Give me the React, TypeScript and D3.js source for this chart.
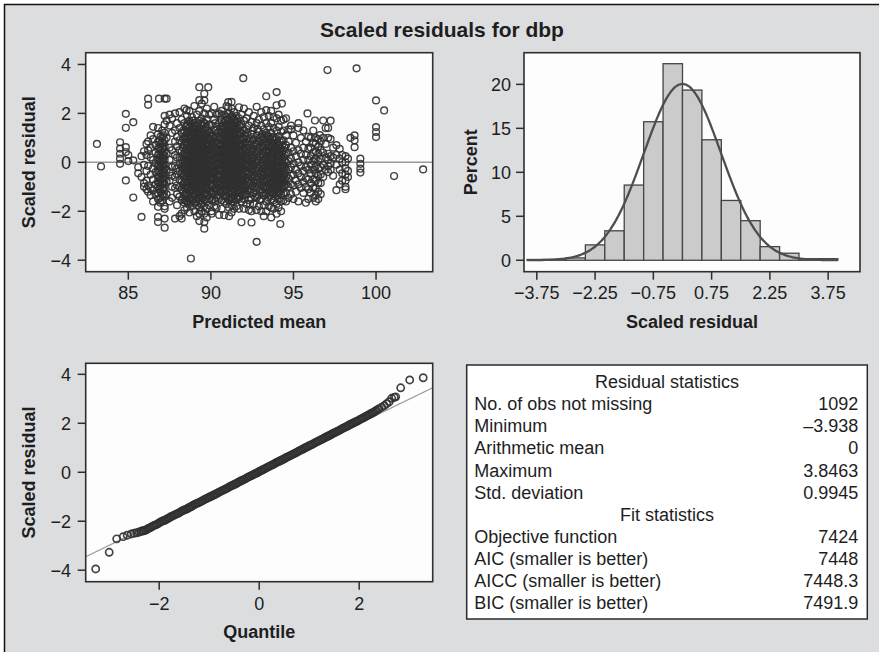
import React from 'react';
import * as d3 from 'd3';

const W = 879;
const H = 652;

// ---------- Panel 1: scaled residual vs predicted mean (columns of points) ----------
const scatterColumns: [number, number[]][] = [
  [83.1, [0.75]],
  [83.35, [-0.17]],
  [84.5, [0.82, 0.56, 0.35, 0.15, -0.06]],
  [84.85, [1.98, 1.41, 0.62, 0.42, -0.74]],
  [85.0, [0.3, 0.05]],
  [85.3, [1.64, 0.08, -1.44]],
  [85.6, [-0.2, -0.45]],
  [85.8, [0.25, -0.6, -2.23]],
  [85.95, [0.45, -0.1, -0.85, -1.0]],
  [86.1, [0.75, 0.3, -0.35, -0.75, -1.1]],
  [86.2, [2.6, 2.35, 0.85, 0.5, -0.15, -0.95, -1.2]],
  [86.35, [1.1, 0.6, 0.2, -0.5, -1.05, -1.35]],
  [86.5, [1.45, 0.95, 0.1, -0.25, -0.7, -1.15, -1.6]],
  [86.65, [0.7, 0.4, -0.05, -0.4, -0.9, -1.3]],
  [86.8, [1.4, 1.15, 0.85, 0.55, 0.3, 0.1, -0.15, -0.35, -0.6, -0.8, -1.0, -1.25, -1.5, -1.82, -2.23, -2.44]],
  [86.86, [2.6]],
  [86.95, [1.05, 0.75, 0.5, 0.25, 0.0, -0.2, -0.45, -0.7, -0.95, -1.2, -1.45, -1.65]],
  [87.05, [1.3, 1.0, 0.8, 0.6, 0.4, 0.2, 0.05, -0.1, -0.3, -0.5, -0.65, -0.85, -1.05, -1.3, -1.55]],
  [87.2, [2.6, 1.9, 1.55, 1.2, 0.9, 0.65, 0.45, 0.25, 0.1, -0.1, -0.25, -0.45, -0.7, -0.9, -1.15, -1.4, -1.8, -1.9, -2.3, -2.67]],
  [87.32, [2.6, 1.7, 1.0, 0.35, -0.3, -0.8, -1.3]],
  [87.5, [1.95, 1.5, 0.6, 0.1, -0.4, -0.75, -1.6]],
  [87.65, [1.8, 1.2, 0.5, -0.2, -0.55, -1.0, -1.45]],
  [87.83, [2.0, 1.3, 0.85, 0.3, -0.15, -0.6, -1.05, -2.3]],
  [87.95, [1.6, 1.05, 0.65, 0.2, -0.25, -0.5, -0.95, -1.3, -1.75]],
  [88.1, [2.05, 1.4, 0.9, 0.5, 0.2, -0.05, -0.35, -0.7, -1.0, -1.4, -2.2]],
  [88.23, [1.75, 1.2, 0.8, 0.45, 0.1, -0.2, -0.45, -0.8, -1.1, -1.55, -2.1, -2.3]],
  [88.4, [2.2, 1.6, 1.25, 0.95, 0.7, 0.4, 0.15, -0.1, -0.3, -0.55, -0.8, -1.05, -1.35, -1.65, -1.95]],
  [88.53, [2.13]],
  [88.55, [1.9, 1.5, 1.2, 0.95, 0.75, 0.55, 0.3, 0.1, -0.05, -0.25, -0.45, -0.6, -0.85, -1.1, -1.3, -1.6, -1.85]],
  [88.7, [2.1, 1.7, 1.4, 1.1, 0.9, 0.65, 0.45, 0.25, 0.1, -0.1, -0.25, -0.4, -0.6, -0.8, -1.0, -1.2, -1.45, -1.7, -2.05]],
  [88.79, [-3.93]],
  [88.85, [1.85, 1.5, 1.25, 1.0, 0.8, 0.6, 0.4, 0.2, 0.05, -0.1, -0.2, -0.35, -0.5, -0.7, -0.9, -1.1, -1.3, -1.55, -1.8]],
  [89.0, [2.3, 1.6, 1.35, 1.15, 0.95, 0.7, 0.5, 0.35, 0.15, 0.0, -0.15, -0.3, -0.45, -0.6, -0.75, -0.95, -1.15, -1.4, -1.65, -2.0]],
  [89.15, [1.95, 1.45, 1.2, 1.0, 0.8, 0.6, 0.45, 0.3, 0.1, -0.05, -0.2, -0.35, -0.55, -0.7, -0.85, -1.05, -1.25, -1.5, -1.75, -2.2]],
  [89.3, [3.07, 2.54, 2.1, 1.7, 1.4, 1.15, 0.9, 0.7, 0.5, 0.3, 0.15, 0.0, -0.2, -0.35, -0.5, -0.7, -0.9, -1.1, -1.3, -1.55, -1.85, -2.1, -2.4]],
  [89.45, [2.4, 1.8, 1.5, 1.2, 1.0, 0.75, 0.55, 0.35, 0.2, 0.05, -0.1, -0.25, -0.4, -0.6, -0.8, -1.0, -1.2, -1.45, -1.7, -2.0]],
  [89.6, [2.8, 2.53, 2.0, 1.6, 1.3, 1.05, 0.85, 0.6, 0.4, 0.2, 0.0, -0.15, -0.3, -0.5, -0.65, -0.85, -1.05, -1.3, -1.55, -1.8, -2.1, -2.44, -2.71]],
  [89.75, [2.2, 1.75, 1.45, 1.15, 0.9, 0.65, 0.45, 0.25, 0.05, -0.1, -0.3, -0.45, -0.65, -0.85, -1.1, -1.35, -1.6, -1.9, -2.25]],
  [89.84, [3.07]],
  [89.9, [1.95, 1.55, 1.2, 0.95, 0.7, 0.5, 0.3, 0.1, -0.1, -0.3, -0.5, -0.7, -0.95, -1.2, -1.5, -1.75]],
  [90.05, [2.0, 1.5, 1.1, 0.8, 0.55, 0.3, 0.05, -0.2, -0.45, -0.7, -0.95, -1.25, -1.55, -2.0, -2.1]],
  [90.2, [2.27, 1.75, 1.3, 0.95, 0.6, 0.35, 0.1, -0.15, -0.4, -0.65, -0.9, -1.2, -1.5, -1.8]],
  [90.35, [1.95, 1.45, 1.05, 0.75, 0.45, 0.2, -0.05, -0.3, -0.55, -0.85, -1.15, -1.45, -1.85]],
  [90.5, [2.0, 1.6, 1.25, 0.95, 0.65, 0.4, 0.15, -0.1, -0.35, -0.6, -0.9, -1.2, -1.5, -2.15]],
  [90.65, [2.1, 1.93, 1.75, 1.45, 1.2, 0.95, 0.7, 0.5, 0.3, 0.1, -0.1, -0.3, -0.5, -0.75, -1.0, -1.25, -1.55, -1.9]],
  [90.8, [1.95, 1.6, 1.35, 1.1, 0.9, 0.7, 0.5, 0.35, 0.2, 0.0, -0.15, -0.3, -0.5, -0.7, -0.9, -1.1, -1.35, -1.6, -2.16]],
  [90.95, [2.3, 1.85, 1.55, 1.3, 1.1, 0.9, 0.7, 0.55, 0.4, 0.25, 0.1, -0.05, -0.2, -0.35, -0.55, -0.75, -0.95, -1.15, -1.4, -1.7]],
  [91.05, [2.46, 2.26]],
  [91.1, [2.0, 1.7, 1.45, 1.25, 1.05, 0.85, 0.65, 0.45, 0.3, 0.15, 0.0, -0.15, -0.3, -0.45, -0.65, -0.85, -1.05, -1.3, -1.55, -1.85, -2.2]],
  [91.25, [2.47, 2.2, 1.9, 1.6, 1.35, 1.15, 0.95, 0.75, 0.55, 0.4, 0.2, 0.05, -0.1, -0.25, -0.4, -0.6, -0.8, -1.0, -1.2, -1.45, -1.75, -2.05]],
  [91.4, [2.05, 1.75, 1.5, 1.3, 1.1, 0.9, 0.7, 0.5, 0.35, 0.15, 0.0, -0.15, -0.3, -0.5, -0.7, -0.9, -1.1, -1.35, -1.6, -1.9]],
  [91.55, [1.9, 1.6, 1.35, 1.15, 0.95, 0.75, 0.55, 0.35, 0.15, -0.05, -0.2, -0.4, -0.6, -0.8, -1.0, -1.25, -1.5, -1.8]],
  [91.7, [2.25, 1.8, 1.5, 1.2, 0.95, 0.7, 0.5, 0.3, 0.1, -0.1, -0.3, -0.5, -0.7, -0.95, -1.2, -1.5, -1.9]],
  [91.85, [1.95, 1.55, 1.2, 0.9, 0.65, 0.4, 0.2, 0.0, -0.2, -0.45, -0.7, -0.95, -1.25, -1.6, -2.45]],
  [91.96, [3.44]],
  [92.0, [2.2, 1.7, 1.3, 0.95, 0.6, 0.3, 0.05, -0.25, -0.55, -0.85, -1.15, -1.5, -1.9]],
  [92.15, [1.8, 1.35, 0.95, 0.6, 0.25, -0.05, -0.35, -0.65, -0.95, -1.3, -1.7]],
  [92.3, [2.05, 1.5, 1.0, 0.6, 0.25, -0.1, -0.45, -0.8, -1.15, -1.55, -1.95]],
  [92.46, [1.65, 1.15, 0.7, 0.3, -0.05, -0.4, -0.75, -1.1, -1.5, -2.0, -2.46]],
  [92.6, [1.9, 1.4, 0.95, 0.55, 0.2, -0.15, -0.5, -0.85, -1.25, -1.7]],
  [92.77, [2.27, 1.6, 1.1, 0.7, 0.35, 0.0, -0.35, -0.7, -1.05, -1.45, -1.95, -3.25]],
  [92.9, [1.75, 1.25, 0.85, 0.45, 0.1, -0.25, -0.6, -0.95, -1.35, -1.8]],
  [93.05, [2.05, 1.5, 1.05, 0.65, 0.3, -0.05, -0.4, -0.75, -1.1, -1.5, -2.0]],
  [93.2, [1.85, 1.35, 0.95, 0.6, 0.25, -0.1, -0.4, -0.7, -1.0, -1.35, -1.75, -2.2]],
  [93.35, [2.7, 2.13, 1.6, 1.2, 0.85, 0.5, 0.2, -0.1, -0.4, -0.7, -1.0, -1.3, -1.6, -2.0]],
  [93.5, [1.9, 1.45, 1.05, 0.7, 0.4, 0.1, -0.15, -0.4, -0.65, -0.9, -1.15, -1.45, -1.8]],
  [93.65, [2.1, 1.6, 1.2, 0.85, 0.55, 0.3, 0.05, -0.2, -0.45, -0.7, -0.95, -1.2, -1.5, -1.85, -2.25]],
  [93.8, [1.85, 1.4, 1.05, 0.75, 0.45, 0.2, -0.05, -0.3, -0.5, -0.75, -1.0, -1.25, -1.55, -1.9]],
  [93.98, [2.87, 2.33, 1.8, 1.3, 0.95, 0.6, 0.3, 0.05, -0.2, -0.4, -0.6, -0.85, -1.1, -1.35, -1.7, -2.1]],
  [94.1, [1.95, 1.45, 1.05, 0.7, 0.4, 0.15, -0.1, -0.3, -0.5, -0.7, -0.95, -1.2, -1.5, -1.85]],
  [94.2, [-2.52]],
  [94.25, [1.7, 1.25, 0.9, 0.55, 0.25, 0.0, -0.25, -0.45, -0.65, -0.85, -1.05, -1.3, -1.6, -2.0]],
  [94.3, [2.4]],
  [94.4, [1.75, 1.3, 0.9, 0.5, 0.2, -0.1, -0.35, -0.55, -0.75, -1.0, -1.25, -1.55]],
  [94.55, [1.8, 1.1, 0.7, 0.35, 0.0, -0.3, -0.6, -0.9, -1.25, -1.6]],
  [94.7, [1.35, 0.85, 0.4, 0.05, -0.3, -0.65, -1.0, -1.45]],
  [94.85, [1.5, 1.35, 0.6, 0.15, -0.2, -0.55, -0.9, -1.3]],
  [95.0, [1.1, 0.45, -0.05, -0.5, -0.95, -1.5]],
  [95.15, [0.8, 0.25, -0.3, -0.75, -1.2]],
  [95.3, [1.6, 1.4, 0.5, 0.0, -0.45, -0.9, -1.6]],
  [95.45, [1.0, 0.35, -0.15, -0.6, -1.05]],
  [95.6, [1.3, 0.6, 0.1, -0.35, -0.8, -1.25]],
  [95.75, [0.85, 0.3, -0.2, -0.65, -1.0, -1.65]],
  [95.85, [2.0]],
  [95.9, [1.05, 0.55, 0.1, -0.3, -0.7, -1.1, -1.5]],
  [96.05, [1.0, 0.6, 0.25, -0.1, -0.45, -0.85, -1.25]],
  [96.2, [1.3, 0.8, 0.4, 0.05, -0.3, -0.7, -1.05, -1.45]],
  [96.3, [1.71]],
  [96.35, [1.0, 0.75, 0.45, 0.15, -0.15, -0.45, -0.75, -1.05, -1.35, -1.6]],
  [96.5, [0.95, 0.65, 0.35, 0.05, -0.25, -0.55, -0.85, -1.2, -1.5]],
  [96.6, [1.11]],
  [96.65, [0.85, 0.5, 0.15, -0.2, -0.5, -0.85, -1.3]],
  [96.8, [1.71, 1.0, 0.4, -0.1, -0.6]],
  [96.95, [1.4, 0.75, 0.2, -0.3]],
  [97.06, [3.77]],
  [97.1, [1.4, 1.0, 0.35, 0.1, -0.15, -0.4]],
  [97.25, [1.7, 0.95, 0.25, -0.05, -0.3]],
  [97.4, [0.6, 0.2, -0.55]],
  [97.6, [0.7, 0.3, -0.1, -1.14]],
  [97.8, [0.55, 0.15, -0.3, -0.9]],
  [97.95, [0.3, 0.0, -0.45, -0.75]],
  [98.15, [0.25, 0.0, -0.25, -0.5, -0.75, -1.0, -1.1]],
  [98.3, [0.15, -0.35, -0.6]],
  [98.45, [1.0]],
  [98.7, [1.1, 0.9, 0.62]],
  [98.82, [3.84]],
  [99.05, [0.15, -0.06, -0.26, -0.42]],
  [100.0, [2.53, 1.44, 1.24, 1.03]],
  [100.49, [2.12]],
  [101.09, [-0.56]],
  [102.85, [-0.29]],
];

// Additional points in the densest parts of the cloud
const scatterColumnsDense: [number, number[]][] = [
  [86.88, [0.9, 0.6, 0.35, 0.1, -0.1, -0.35, -0.6, -0.85, -1.1]],
  [87.12, [1.1, 0.8, 0.55, 0.3, 0.1, -0.15, -0.4, -0.6, -0.85, -1.1, -1.35]],
  [88.32, [1.3, 0.95, 0.6, 0.3, 0.0, -0.25, -0.55, -0.9, -1.2, -1.5]],
  [88.47, [1.45, 1.1, 0.8, 0.5, 0.25, 0.0, -0.2, -0.45, -0.7, -0.95, -1.25, -1.55]],
  [88.62, [1.55, 1.25, 1.0, 0.75, 0.5, 0.3, 0.05, -0.15, -0.35, -0.55, -0.8, -1.05, -1.35, -1.65]],
  [88.77, [1.6, 1.3, 1.05, 0.8, 0.55, 0.35, 0.15, -0.05, -0.3, -0.5, -0.7, -0.95, -1.2, -1.5]],
  [88.92, [1.7, 1.4, 1.1, 0.85, 0.65, 0.45, 0.25, 0.05, -0.15, -0.35, -0.55, -0.75, -1.0, -1.25, -1.55]],
  [89.07, [1.5, 1.25, 1.0, 0.8, 0.55, 0.35, 0.2, 0.0, -0.2, -0.4, -0.55, -0.8, -1.0, -1.3, -1.6]],
  [89.22, [1.6, 1.3, 1.05, 0.85, 0.65, 0.4, 0.2, 0.05, -0.15, -0.3, -0.5, -0.7, -0.95, -1.2, -1.45]],
  [89.37, [1.55, 1.25, 1.0, 0.8, 0.6, 0.4, 0.25, 0.05, -0.15, -0.3, -0.5, -0.7, -0.9, -1.15, -1.4, -1.7]],
  [89.52, [1.65, 1.35, 1.1, 0.9, 0.7, 0.45, 0.25, 0.1, -0.1, -0.25, -0.45, -0.65, -0.9, -1.15, -1.45]],
  [89.67, [1.4, 1.15, 0.9, 0.7, 0.5, 0.3, 0.1, -0.1, -0.3, -0.5, -0.75, -1.0, -1.25, -1.5]],
  [89.82, [1.3, 1.0, 0.75, 0.5, 0.3, 0.1, -0.1, -0.3, -0.55, -0.8, -1.05, -1.35]],
  [89.97, [1.2, 0.9, 0.6, 0.35, 0.1, -0.15, -0.4, -0.65, -0.9, -1.2]],
  [90.12, [1.05, 0.7, 0.4, 0.15, -0.1, -0.35, -0.6, -0.95, -1.3]],
  [90.27, [1.6, 0.85, 0.5, 0.2, -0.1, -0.4, -0.75, -1.05, -1.6]],
  [90.42, [1.2, 0.8, 0.55, 0.3, 0.0, -0.25, -0.5, -0.8, -1.05, -1.35]],
  [90.57, [1.35, 1.05, 0.75, 0.45, 0.2, -0.05, -0.3, -0.55, -0.85, -1.15]],
  [90.72, [1.5, 1.2, 0.9, 0.6, 0.35, 0.1, -0.15, -0.4, -0.65, -0.9, -1.2]],
  [90.87, [1.7, 1.45, 1.2, 0.95, 0.75, 0.55, 0.35, 0.15, -0.05, -0.25, -0.45, -0.65, -0.85, -1.1, -1.4]],
  [91.02, [1.75, 1.5, 1.25, 1.0, 0.8, 0.6, 0.4, 0.2, 0.05, -0.1, -0.3, -0.5, -0.7, -0.95, -1.2, -1.5]],
  [91.17, [1.8, 1.55, 1.3, 1.05, 0.85, 0.65, 0.45, 0.25, 0.1, -0.1, -0.25, -0.45, -0.65, -0.9, -1.15, -1.45]],
  [91.32, [1.85, 1.55, 1.3, 1.05, 0.85, 0.6, 0.4, 0.25, 0.05, -0.1, -0.3, -0.5, -0.7, -0.95, -1.2, -1.5]],
  [91.47, [1.7, 1.45, 1.2, 1.0, 0.8, 0.6, 0.4, 0.2, 0.05, -0.15, -0.35, -0.55, -0.75, -1.0, -1.3]],
  [91.62, [1.65, 1.4, 1.15, 0.9, 0.7, 0.5, 0.3, 0.1, -0.1, -0.3, -0.5, -0.7, -0.95, -1.2, -1.45]],
  [91.77, [1.5, 1.2, 0.95, 0.7, 0.45, 0.25, 0.05, -0.15, -0.35, -0.6, -0.85, -1.1, -1.4]],
  [91.92, [1.3, 1.0, 0.75, 0.5, 0.25, 0.0, -0.25, -0.5, -0.75, -1.05, -1.35]],
  [92.07, [1.1, 0.8, 0.45, 0.15, -0.1, -0.4, -0.7, -1.0, -1.3]],
  [92.22, [1.2, 0.75, 0.4, 0.1, -0.2, -0.5, -0.8, -1.15]],
  [92.37, [0.85, 0.45, 0.1, -0.2, -0.55, -0.9, -1.25, -1.7]],
  [92.52, [1.3, 0.9, 0.5, 0.15, -0.25, -0.6, -0.95]],
  [92.67, [0.75, 0.4, 0.05, -0.3, -0.6, -1.0, -1.4]],
  [92.82, [1.35, 0.9, 0.55, 0.2, -0.15, -0.5, -0.85]],
  [92.97, [1.0, 0.6, 0.25, -0.1, -0.45, -0.8, -1.15, -1.55]],
  [93.12, [1.15, 0.8, 0.45, 0.1, -0.25, -0.55, -0.9, -1.25]],
  [93.27, [1.0, 0.7, 0.4, 0.1, -0.2, -0.5, -0.8, -1.1]],
  [93.42, [1.1, 0.8, 0.5, 0.25, 0.0, -0.25, -0.5, -0.75, -1.0, -1.25]],
  [93.57, [0.95, 0.65, 0.4, 0.15, -0.1, -0.35, -0.6, -0.85, -1.1, -1.35]],
  [93.72, [1.0, 0.7, 0.45, 0.2, -0.05, -0.3, -0.55, -0.8, -1.05, -1.3]],
  [93.87, [0.9, 0.6, 0.35, 0.1, -0.15, -0.4, -0.65, -0.9, -1.15, -1.4]],
  [94.02, [0.8, 0.5, 0.25, 0.0, -0.25, -0.5, -0.75, -1.0, -1.25]],
  [94.17, [0.85, 0.55, 0.3, 0.05, -0.2, -0.45, -0.7, -0.95, -1.2]],
  [94.32, [0.7, 0.4, 0.15, -0.1, -0.35, -0.6, -0.85, -1.1]],
  [94.47, [0.6, 0.3, 0.05, -0.2, -0.45, -0.7, -0.95]],
];

// ---------- Panel 2: histogram of scaled residuals ----------
const histBinStart = [-4, -3.5, -3, -2.5, -2, -1.5, -1, -0.5, 0, 0.5, 1, 1.5, 2, 2.5, 3, 3.5];
const histPercent = [0.09, 0.09, 0.27, 1.75, 3.35, 8.55, 15.75, 22.35, 19.35, 13.7, 6.8, 4.5, 1.55, 0.8, 0.18, 0.18];
const histBinWidth = 0.5;

// ---------- Panel 3: normal quantile plot ----------
const qqQuantile = [
  -3.27, -3.0, -2.85, -2.72, -2.64, -2.56, -2.5, -2.45, -2.4, -2.36, -2.33,
  -2.31, -2.28, -2.25, -2.22, -2.19, -2.16, -2.13, -2.1, -2.07, -2.04, -2.01, -1.98, -1.95, -1.92, -1.89, -1.86,
  -1.83, -1.8, -1.77, -1.74, -1.71, -1.68, -1.65, -1.62, -1.59, -1.56, -1.53, -1.5, -1.47, -1.44, -1.41, -1.38,
  -1.35, -1.32, -1.29, -1.26, -1.23, -1.2, -1.17, -1.14, -1.11, -1.08, -1.05, -1.02, -0.99, -0.96, -0.93, -0.9,
  -0.87, -0.84, -0.81, -0.78, -0.75, -0.72, -0.69, -0.66, -0.63, -0.6, -0.57, -0.54, -0.51, -0.48, -0.45, -0.42,
  -0.39, -0.36, -0.33, -0.3, -0.27, -0.24, -0.21, -0.18, -0.15, -0.12, -0.09, -0.06, -0.03, 0.0, 0.03, 0.06,
  0.09, 0.12, 0.15, 0.18, 0.21, 0.24, 0.27, 0.3, 0.33, 0.36, 0.39, 0.42, 0.45, 0.48, 0.51, 0.54,
  0.57, 0.6, 0.63, 0.66, 0.69, 0.72, 0.75, 0.78, 0.81, 0.84, 0.87, 0.9, 0.93, 0.96, 0.99, 1.02,
  1.05, 1.08, 1.11, 1.14, 1.17, 1.2, 1.23, 1.26, 1.29, 1.32, 1.35, 1.38, 1.41, 1.44, 1.47, 1.5,
  1.53, 1.56, 1.59, 1.62, 1.65, 1.68, 1.71, 1.74, 1.77, 1.8, 1.83, 1.86, 1.89, 1.92, 1.95, 1.98,
  2.01, 2.04, 2.07, 2.1, 2.13, 2.16, 2.19, 2.22, 2.25, 2.28, 2.31, 2.34, 2.37, 2.4,
  2.45, 2.5, 2.55, 2.6, 2.65, 2.7, 2.73, 2.83, 3.01, 3.28,
];
const qqResidual = [
  -3.95, -3.27, -2.72, -2.63, -2.57, -2.52, -2.49, -2.47, -2.44, -2.41, -2.39,
  -2.39, -2.37, -2.34, -2.3, -2.27, -2.24, -2.2, -2.17, -2.15, -2.12, -2.08, -2.04, -2.01, -1.98, -1.96, -1.93,
  -1.89, -1.86, -1.82, -1.79, -1.76, -1.73, -1.7, -1.68, -1.64, -1.6, -1.57, -1.54, -1.52, -1.49, -1.45, -1.42,
  -1.39, -1.35, -1.31, -1.28, -1.26, -1.23, -1.2, -1.17, -1.13, -1.1, -1.07, -1.04, -1.01, -0.98, -0.95, -0.92,
  -0.89, -0.86, -0.82, -0.79, -0.76, -0.73, -0.7, -0.67, -0.64, -0.6, -0.57, -0.54, -0.51, -0.48, -0.45, -0.41,
  -0.38, -0.35, -0.32, -0.29, -0.26, -0.22, -0.19, -0.16, -0.13, -0.1, -0.07, -0.04, -0.01, 0.03, 0.06, 0.09,
  0.12, 0.15, 0.19, 0.22, 0.25, 0.28, 0.31, 0.34, 0.38, 0.41, 0.44, 0.47, 0.5, 0.53, 0.56, 0.6,
  0.63, 0.66, 0.69, 0.72, 0.75, 0.78, 0.81, 0.85, 0.88, 0.91, 0.94, 0.98, 1.01, 1.04, 1.07, 1.1,
  1.13, 1.16, 1.2, 1.23, 1.26, 1.29, 1.32, 1.35, 1.38, 1.42, 1.45, 1.48, 1.51, 1.54, 1.58, 1.61,
  1.64, 1.67, 1.7, 1.73, 1.77, 1.8, 1.83, 1.86, 1.89, 1.93, 1.96, 1.99, 2.02, 2.05, 2.08, 2.11,
  2.15, 2.18, 2.21, 2.24, 2.28, 2.31, 2.34, 2.38, 2.41, 2.44, 2.48, 2.52, 2.56, 2.6,
  2.66, 2.72, 2.8, 2.88, 3.02, 3.06, 3.08, 3.45, 3.77, 3.86,
];

// ---------- Axis ticks ----------
const scatterXTicks = [85, 90, 95, 100];
const residualTicks = [-4, -2, 0, 2, 4];
const histXTicks = [-3.75, -2.25, -0.75, 0.75, 2.25, 3.75];
const histYTicks = [0, 5, 10, 15, 20];
const qqXTicks = [-2, 0, 2];

// ---------- Statistics table ----------
const residualStatLabels = ['No. of obs not missing', 'Minimum', 'Arithmetic mean', 'Maximum', 'Std. deviation'];
const residualStatValues = ['1092', '\u20133.938', '0', '3.8463', '0.9945'];
const fitStatLabels = ['Objective function', 'AIC (smaller is better)', 'AICC (smaller is better)', 'BIC (smaller is better)'];
const fitStatValues = ['7424', '7448', '7448.3', '7491.9'];

const residualMean = 0;
const residualSD = 0.9945;

const FONT = '"Liberation Sans", Arial, Helvetica, sans-serif';
const INK = '#1e1e1e';
const AXIS = '#2e2e2e';
const BG = '#dcdddf';
const MARK = '#303030';

const fmt = (v: number) => (v < 0 ? '\u2212' + String(Math.abs(v)) : String(v));

type Box = { x0: number; x1: number; y0: number; y1: number };

function Frame({ b }: { b: Box }) {
  return (
    <rect x={b.x0} y={b.y0} width={b.x1 - b.x0} height={b.y1 - b.y0} fill="none" stroke={AXIS} strokeWidth={1.6} />
  );
}

function YAxis({ b, scale, ticks, labelX, format }: { b: Box; scale: d3.ScaleLinear<number, number>; ticks: number[]; labelX: number; format?: (v: number) => string }) {
  const f = format || fmt;
  return (
    <g>
      {ticks.map((t) => (
        <g key={t}>
          <line x1={b.x0 - 8} x2={b.x0} y1={scale(t)} y2={scale(t)} stroke={AXIS} strokeWidth={1.5} />
          <text x={labelX} y={scale(t)} dy="0.36em" textAnchor="end" fontSize={18} fontFamily={FONT} fill={INK}>
            {f(t)}
          </text>
        </g>
      ))}
    </g>
  );
}

function XAxis({ b, scale, ticks, labelY, format }: { b: Box; scale: d3.ScaleLinear<number, number>; ticks: number[]; labelY: number; format?: (v: number) => string }) {
  const f = format || fmt;
  return (
    <g>
      {ticks.map((t) => (
        <g key={t}>
          <line x1={scale(t)} x2={scale(t)} y1={b.y1} y2={b.y1 + 8} stroke={AXIS} strokeWidth={1.5} />
          <text x={scale(t)} y={labelY} textAnchor="middle" fontSize={18} fontFamily={FONT} fill={INK}>
            {f(t)}
          </text>
        </g>
      ))}
    </g>
  );
}

export default function App() {
  const p1: Box = { x0: 85.7, x1: 432.7, y0: 52.7, y1: 271.7 };
  const p2: Box = { x0: 524, x1: 860, y0: 52.7, y1: 271.7 };
  const p3: Box = { x0: 85.7, x1: 432.7, y0: 363.3, y1: 581.7 };
  const tb: Box = { x0: 466.7, x1: 867.3, y0: 365, y1: 619 };

  const x1 = d3.scaleLinear().domain([82.42, 103.43]).range([p1.x0, p1.x1]);
  const y1 = d3.scaleLinear().domain([-4.47, 4.48]).range([p1.y1, p1.y0]);
  const x2 = d3.scaleLinear().domain([-4.08, 4.57]).range([p2.x0, p2.x1]);
  const y2 = d3.scaleLinear().domain([-1.3, 23.6]).range([p2.y1, p2.y0]);
  const x3 = d3.scaleLinear().domain([-3.47, 3.47]).range([p3.x0, p3.x1]);
  const y3 = d3.scaleLinear().domain([-4.47, 4.45]).range([p3.y1, p3.y0]);

  const scatterPoints: [number, number][] = [];
  [...scatterColumns, ...scatterColumnsDense].forEach(([xv, rs]) => rs.forEach((r) => scatterPoints.push([xv, r])));

  // Fitted normal density curve (percent per bin), from the mean and std. deviation
  const pdf = (v: number) => Math.exp(-0.5 * ((v - residualMean) / residualSD) ** 2) / (residualSD * Math.sqrt(2 * Math.PI));
  const curveX = d3.range(-4, 4.0001, 0.04);
  const curvePath = d3
    .line<number>()
    .x((v) => x2(v))
    .y((v) => y2(100 * histBinWidth * pdf(v)))
    .curve(d3.curveBasis)(curveX) as string;

  const qqPts = qqQuantile.map((q, i) => [q, qqResidual[i]] as [number, number]);

  const tableRows: { text: string; value?: string; header?: boolean }[] = [
    { text: 'Residual statistics', header: true },
    ...residualStatLabels.map((t, i) => ({ text: t, value: residualStatValues[i] })),
    { text: 'Fit statistics', header: true },
    ...fitStatLabels.map((t, i) => ({ text: t, value: fitStatValues[i] })),
  ];
  const rowBaselines = [387.7, 409.6, 432.0, 454.4, 476.8, 499.0, 520.6, 542.6, 564.8, 587.0, 609.2];

  return (
    <svg width={W} height={H} style={{ position: 'absolute', left: 0, top: 0, display: 'block' }}>
      <rect x={0} y={0} width={W} height={H} fill="#ffffff" />
      <rect x={4.5} y={4.5} width={W + 10} height={H + 10} fill={BG} stroke="#111" strokeWidth={1.5} />

      <text x={442} y={37} textAnchor="middle" fontSize={21} fontWeight="bold" fontFamily={FONT} fill={INK}>
        Scaled residuals for dbp
      </text>

      <defs>
        <clipPath id="clip1">
          <rect x={p1.x0} y={p1.y0} width={p1.x1 - p1.x0} height={p1.y1 - p1.y0} />
        </clipPath>
        <clipPath id="clip3">
          <rect x={p3.x0} y={p3.y0} width={p3.x1 - p3.x0} height={p3.y1 - p3.y0} />
        </clipPath>
      </defs>

      {/* Panel 1 */}
      <rect x={p1.x0} y={p1.y0} width={p1.x1 - p1.x0} height={p1.y1 - p1.y0} fill="#fdfdfd" />
      <g clipPath="url(#clip1)">
        <line x1={p1.x0} x2={p1.x1} y1={y1(0)} y2={y1(0)} stroke="#9a9a9a" strokeWidth={1.6} />
        {scatterPoints.map(([xv, r], i) => (
          <circle key={i} cx={x1(xv)} cy={y1(r)} r={3.4} fill="none" stroke={MARK} strokeWidth={1.4} strokeOpacity={0.9} />
        ))}
      </g>
      <Frame b={p1} />
      <YAxis b={p1} scale={y1} ticks={residualTicks} labelX={71} />
      <XAxis b={p1} scale={x1} ticks={scatterXTicks} labelY={299} />
      <text transform={`translate(35,${(p1.y0 + p1.y1) / 2}) rotate(-90)`} textAnchor="middle" fontSize={18} fontWeight="bold" fontFamily={FONT} fill={INK}>
        Scaled residual
      </text>
      <text x={(p1.x0 + p1.x1) / 2} y={328} textAnchor="middle" fontSize={18} fontWeight="bold" fontFamily={FONT} fill={INK}>
        Predicted mean
      </text>

      {/* Panel 2 */}
      <rect x={p2.x0} y={p2.y0} width={p2.x1 - p2.x0} height={p2.y1 - p2.y0} fill="#fdfdfd" />
      {histBinStart.map((s, i) => (
        <rect
          key={i}
          x={x2(s)}
          y={y2(histPercent[i])}
          width={x2(s + histBinWidth) - x2(s)}
          height={y2(0) - y2(histPercent[i])}
          fill="#cbcbcb"
          stroke="#444"
          strokeWidth={1.3}
        />
      ))}
      <path d={curvePath} fill="none" stroke="#4e4e4e" strokeWidth={2.3} />
      <Frame b={p2} />
      <YAxis b={p2} scale={y2} ticks={histYTicks} labelX={511} />
      <XAxis b={p2} scale={x2} ticks={histXTicks} labelY={299} format={(v) => (v < 0 ? '\u2212' + Math.abs(v).toFixed(2) : v.toFixed(2))} />
      <text transform={`translate(477,${(p2.y0 + p2.y1) / 2}) rotate(-90)`} textAnchor="middle" fontSize={18} fontWeight="bold" fontFamily={FONT} fill={INK}>
        Percent
      </text>
      <text x={(p2.x0 + p2.x1) / 2} y={328} textAnchor="middle" fontSize={18} fontWeight="bold" fontFamily={FONT} fill={INK}>
        Scaled residual
      </text>

      {/* Panel 3 */}
      <rect x={p3.x0} y={p3.y0} width={p3.x1 - p3.x0} height={p3.y1 - p3.y0} fill="#fdfdfd" />
      <g clipPath="url(#clip3)">
        <line
          x1={x3(-3.47)}
          x2={x3(3.47)}
          y1={y3(residualMean + residualSD * -3.47)}
          y2={y3(residualMean + residualSD * 3.47)}
          stroke="#9a9a9a"
          strokeWidth={1.3}
        />
        {qqPts.map(([q, r], i) => (
          <circle key={i} cx={x3(q)} cy={y3(r)} r={3.6} fill="none" stroke={MARK} strokeWidth={1.7} strokeOpacity={0.9} />
        ))}
      </g>
      <Frame b={p3} />
      <YAxis b={p3} scale={y3} ticks={residualTicks} labelX={71} />
      <XAxis b={p3} scale={x3} ticks={qqXTicks} labelY={609.5} />
      <text transform={`translate(35,${(p3.y0 + p3.y1) / 2}) rotate(-90)`} textAnchor="middle" fontSize={18} fontWeight="bold" fontFamily={FONT} fill={INK}>
        Scaled residual
      </text>
      <text x={(p3.x0 + p3.x1) / 2} y={638} textAnchor="middle" fontSize={18} fontWeight="bold" fontFamily={FONT} fill={INK}>
        Quantile
      </text>

      {/* Table */}
      <rect x={tb.x0} y={tb.y0} width={tb.x1 - tb.x0} height={tb.y1 - tb.y0} fill="#ffffff" stroke="#2a2a2a" strokeWidth={1.5} />
      {tableRows.map((row, i) =>
        row.header ? (
          <text key={i} x={(tb.x0 + tb.x1) / 2} y={rowBaselines[i]} textAnchor="middle" fontSize={18} fontFamily={FONT} fill={INK}>
            {row.text}
          </text>
        ) : (
          <g key={i}>
            <text x={474.3} y={rowBaselines[i]} fontSize={18} fontFamily={FONT} fill={INK}>
              {row.text}
            </text>
            <text x={858.3} y={rowBaselines[i]} textAnchor="end" fontSize={18} fontFamily={FONT} fill={INK}>
              {row.value}
            </text>
          </g>
        )
      )}
    </svg>
  );
}
